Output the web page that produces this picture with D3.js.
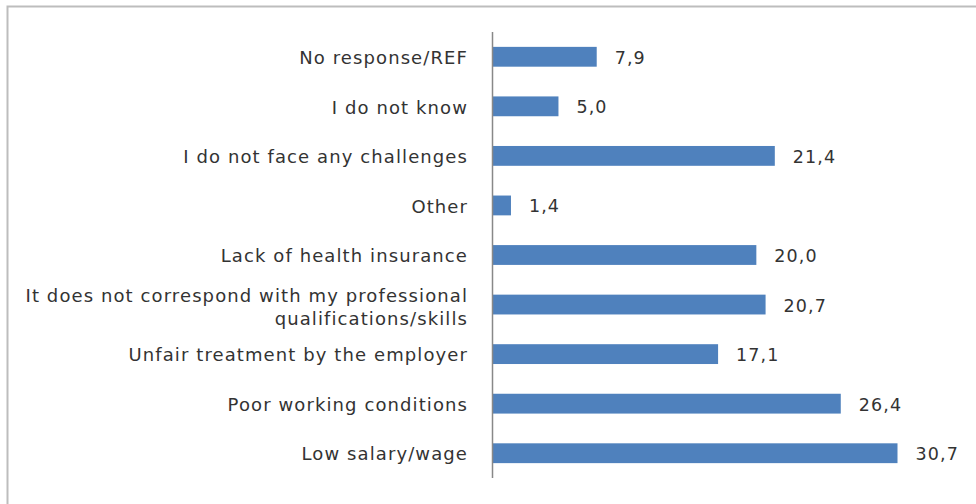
<!DOCTYPE html>
<html><head><meta charset="utf-8">
<script src="https://cdn.jsdelivr.net/npm/d3@7"></script>
<style>body{margin:0;background:#fff}svg{display:block}</style>
</head><body><svg id="c" width="976" height="504"></svg>
<script>
const categories = [
  "No response/REF",
  "I do not know",
  "I do not face any challenges",
  "Other",
  "Lack of health insurance",
  "It does not correspond with my professional\nqualifications/skills",
  "Unfair treatment by the employer",
  "Poor working conditions",
  "Low salary/wage"
];
const values = [7.9, 5.0, 21.4, 1.4, 20.0, 20.7, 17.1, 26.4, 30.7];

const svg = d3.select("#c");
// frame
svg.append("path").attr("d","M7.5,504 V6.5 H976").attr("fill","none").attr("stroke","#bdbdbd").attr("stroke-width",2);

const x0 = 492.5;
const x = d3.scaleLinear().domain([0, 30.7]).range([x0, 897.5]);
const y = d3.scaleBand().domain(categories).range([32, 478]).paddingInner(0.6).paddingOuter(0.3);

const font = "'DejaVu Sans', sans-serif";
const col = "#333";
const ls = "1.1px";

svg.selectAll("rect.bar").data(values).join("rect")
  .attr("x", x(0)).attr("y", (d,i)=>y(categories[i]))
  .attr("width", d=>x(d)-x(0)).attr("height", y.bandwidth())
  .attr("fill","#4f81bd");

svg.append("line").attr("x1",x0).attr("x2",x0).attr("y1",32).attr("y2",478)
  .attr("stroke","#888").attr("stroke-width",1.5);

svg.selectAll("text.val").data(values).join("text")
  .attr("x", d=>x(d)+18).attr("y",(d,i)=>y(categories[i])+y.bandwidth()/2)
  .attr("dy","0.4em").attr("font-family",font).attr("font-size",17.5).attr("fill",col)
  .attr("letter-spacing",ls)
  .text(d=>d.toFixed(1).replace(".",","));

const lab = svg.selectAll("text.cat").data(categories).join("text")
  .attr("text-anchor","end").attr("font-family",font).attr("font-size",18).attr("fill",col)
  .attr("letter-spacing",ls)
  .attr("x", 468).attr("y", d=>y(d)+y.bandwidth()/2);
lab.each(function(d){
  const lines = d.split("\n");
  const t = d3.select(this);
  lines.forEach((l,j)=>{
    t.append("tspan").attr("x",468)
     .attr("dy", j===0 ? (0.4 - (lines.length-1)*0.55)+"em" : "1.3em").text(l);
  });
});
</script></body></html>
